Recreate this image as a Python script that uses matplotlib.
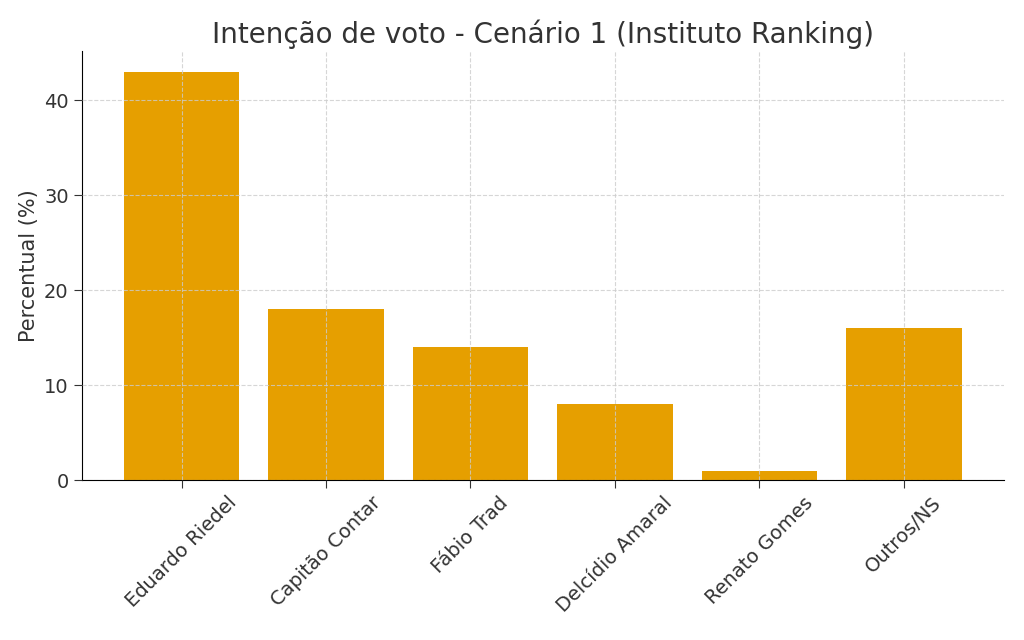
import matplotlib
matplotlib.use("Agg")
import matplotlib.pyplot as plt

categories = ["Eduardo Riedel", "Capitão Contar", "Fábio Trad", "Delcídio Amaral", "Renato Gomes", "Outros/NS"]
values = [43, 18, 14, 8, 1, 16]

plt.rcParams['font.family'] = ['DejaVu Sans']
fig, ax = plt.subplots(figsize=(10.24, 6.4), dpi=100)
ax.bar(categories, values, color="#E69F00", zorder=1)
ax.set_axisbelow(False)
ax.set_title("Intenção de voto - Cenário 1 (Instituto Ranking)", fontsize=20, color="#333333")
ax.set_ylabel("Percentual (%)", fontsize=15, color="#333333")
ax.grid(True, linestyle="--", color="#cccccc", alpha=0.8)
ax.spines['top'].set_visible(False)
ax.spines['right'].set_visible(False)
ax.tick_params(labelsize=14, colors="#333333", length=6)
plt.setp(ax.get_xticklabels(), rotation=45, ha="center")
ax.set_yticks([0, 10, 20, 30, 40])
fig.subplots_adjust(left=0.08, right=0.98, top=0.92, bottom=0.25)
fig.savefig("out.png")
